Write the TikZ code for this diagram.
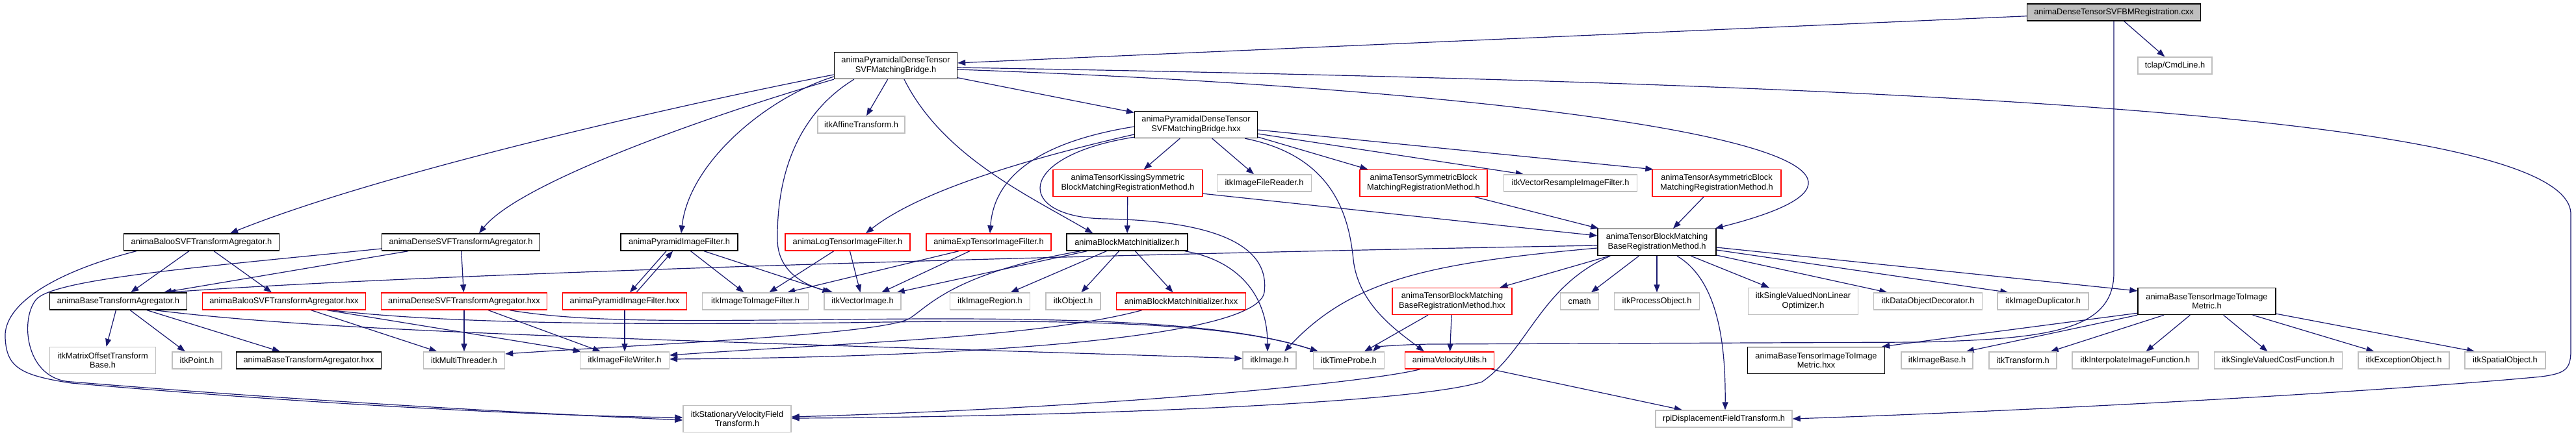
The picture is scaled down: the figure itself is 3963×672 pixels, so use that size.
\documentclass[tikz,border=0pt]{standalone}
\usepackage{fontspec}
\setmainfont{Liberation Sans}
\usetikzlibrary{arrows.meta,calc}
\definecolor{edgeblue}{HTML}{191970}
\definecolor{boxgray}{HTML}{BFBFBF}
\definecolor{fillgray}{HTML}{BFBFBF}
\pgfdeclarelayer{paper}
\pgfdeclarelayer{background}
\pgfsetlayers{paper,background,main}
\begin{document}
\begin{tikzpicture}[x=1pt,y=-1pt,
  nb/.style={draw, rectangle, inner sep=0pt, align=center, fill=white,
    font=\fontsize{12.8pt}{14.7pt}\selectfont, line width=1.4pt},
  bk/.style={nb, draw=black},
  gr/.style={nb, draw=boxgray},
  rd/.style={nb, draw=red},
  wh/.style 2 args={minimum width=#1pt, minimum height=#2pt},
  e/.style={draw=edgeblue, line width=1.2pt, -{Triangle[length=12pt,width=9pt]}}]
\useasboundingbox (0,0) rectangle (3963,672);
\begin{pgfonlayer}{paper}
\fill[white] (0,0) rectangle (3963,672);
\end{pgfonlayer}

% ---------- nodes ----------
\node[bk, fill=fillgray, wh={267}{26}] (cxx) at (3252,19) {animaDenseTensorSVFBMRegistration.cxx};
\node[bk, wh={189}{41}] (pbh) at (1378,101) {animaPyramidalDenseTensor\\SVFMatchingBridge.h};
\node[gr, wh={114}{26}] (tclap) at (3346,101) {tclap/CmdLine.h};
\node[gr, wh={134}{26}] (affine) at (1325,192) {itkAffineTransform.h};
\node[bk, wh={189}{41}] (pbhxx) at (1840,192) {animaPyramidalDenseTensor\\SVFMatchingBridge.hxx};
\node[rd, wh={230}{41}] (kiss) at (1735,282) {animaTensorKissingSymmetric\\BlockMatchingRegistrationMethod.h};
\node[gr, wh={145}{26}] (reader) at (1945,282) {itkImageFileReader.h};
\node[rd, wh={196}{41}] (sym) at (2190,282) {animaTensorSymmetricBlock\\MatchingRegistrationMethod.h};
\node[gr, wh={205}{26}] (vres) at (2416,282) {itkVectorResampleImageFilter.h};
\node[rd, wh={198}{41}] (asym) at (2641,282) {animaTensorAsymmetricBlock\\MatchingRegistrationMethod.h};

\node[bk, wh={239}{26}] (baloo) at (310,373) {animaBalooSVFTransformAgregator.h};
\node[bk, wh={243}{26}] (dense) at (709,373) {animaDenseSVFTransformAgregator.h};
\node[bk, wh={180}{26}] (pif) at (1045,373) {animaPyramidImageFilter.h};
\node[rd, wh={192}{26}] (logt) at (1304,373) {animaLogTensorImageFilter.h};
\node[rd, wh={192}{26}] (expt) at (1521,373) {animaExpTensorImageFilter.h};
\node[bk, wh={186}{26}] (bmi) at (1734,373) {animaBlockMatchInitializer.h};
\node[bk, wh={182}{41}] (tbm) at (2549,373) {animaTensorBlockMatching\\BaseRegistrationMethod.h};

\node[bk, wh={211}{26}] (bta) at (182,464) {animaBaseTransformAgregator.h};
\node[rd, wh={251}{26}] (balooxx) at (437,464) {animaBalooSVFTransformAgregator.hxx};
\node[rd, wh={255}{26}] (densexx) at (714,464) {animaDenseSVFTransformAgregator.hxx};
\node[rd, wh={191}{26}] (pifxx) at (961,464) {animaPyramidImageFilter.hxx};
\node[gr, wh={163}{26}] (i2i) at (1162,464) {itkImageToImageFilter.h};
\node[gr, wh={118}{26}] (vimg) at (1327,464) {itkVectorImage.h};
\node[gr, wh={123}{26}] (region) at (1523,464) {itkImageRegion.h};
\node[gr, wh={84}{26}] (object) at (1651,464) {itkObject.h};
\node[rd, wh={199}{26}] (bmixx) at (1817,464) {animaBlockMatchInitializer.hxx};
\node[rd, wh={184}{41}] (tbmxx) at (2234,464) {animaTensorBlockMatching\\BaseRegistrationMethod.hxx};
\node[gr, wh={59}{26}] (cmath) at (2430,464) {cmath};
\node[gr, wh={131}{26}] (procobj) at (2549,464) {itkProcessObject.h};
\node[gr, wh={169}{41}] (svnlo) at (2774,464) {itkSingleValuedNonLinear\\Optimizer.h};
\node[gr, wh={167}{26}] (dod) at (2966,464) {itkDataObjectDecorator.h};
\node[gr, wh={140}{26}] (dup) at (3143,464) {itkImageDuplicator.h};
\node[bk, wh={212}{41}] (metric) at (3395,464) {animaBaseTensorImageToImage\\Metric.h};

\node[gr, wh={163}{41}] (mob) at (158,555) {itkMatrixOffsetTransform\\Base.h};
\node[gr, wh={76}{26}] (point) at (303,555) {itkPoint.h};
\node[bk, wh={223}{26}] (btaxx) at (475,555) {animaBaseTransformAgregator.hxx};
\node[gr, wh={125}{26}] (mt) at (714,555) {itkMultiThreader.h};
\node[gr, wh={137}{26}] (writer) at (961,555) {itkImageFileWriter.h};
\node[gr, wh={82}{26}] (image) at (1953,555) {itkImage.h};
\node[gr, wh={109}{26}] (probe) at (2075,555) {itkTimeProbe.h};
\node[rd, wh={137}{26}] (vel) at (2230,555) {animaVelocityUtils.h};
\node[bk, wh={211}{41}] (metricxx) at (2794,555) {animaBaseTensorImageToImage\\Metric.hxx};
\node[gr, wh={110}{26}] (ibase) at (2980,555) {itkImageBase.h};
\node[gr, wh={104}{26}] (transform) at (3112,555) {itkTransform.h};
\node[gr, wh={194}{26}] (interp) at (3285,555) {itkInterpolateImageFunction.h};
\node[gr, wh={197}{26}] (svcf) at (3505,555) {itkSingleValuedCostFunction.h};
\node[gr, wh={140}{26}] (exc) at (3698,555) {itkExceptionObject.h};
\node[gr, wh={124}{26}] (spatial) at (3854,555) {itkSpatialObject.h};

\node[gr, wh={166}{41}] (svf) at (1134,645) {itkStationaryVelocityField\\Transform.h};
\node[gr, wh={210}{26}] (rpi) at (2652,645) {rpiDisplacementFieldTransform.h};

% ---------- edges ----------
\begin{pgfonlayer}{background}
% cxx
\draw[e] (cxx) -- (tclap);
\draw[e] (cxx) -- (pbh);
\draw[e] (cxx.south) -- (3252,420) .. controls (3252,510) and (3150,522) .. (2950,527)
   -- (2200,530) .. controls (2140,531) and (2118,535) .. ($(probe.north east)+(-18,0)$);
% pyramidal bridge .h
\draw[e] (pbh) -- (affine);
\draw[e] (pbh) -- (pbhxx);
\draw[e] ($(pbh.west)+(0,14)$) .. controls (1100,150) and (600,260) .. ($(baloo.north)+(44,0)$);
\draw[e] (pbh.south west) .. controls (1100,175) and (800,280) .. ($(dense.north)+(28,0)$);
\draw[e] ($(pbh.west)+(0,17)$) .. controls (1180,150) and (1060,250) .. ($(pif.north)+(3,0)$);
\draw[e] ($(pbh.south west)+(31,0)$) .. controls (1220,180) and (1195,280) .. (1196,370)
   .. controls (1197,420) and (1240,440) .. ($(vimg.north west)+(14,0)$);
\draw[e] ($(pbh.south)+(13,0)$) .. controls (1450,240) and (1580,300) .. ($(bmi.north west)+(41,0)$);
\draw[e] ($(pbh.east)+(0,6)$) .. controls (2400,140) and (3080,240) .. ($(tbm.north east)+(-2,0)$);
\draw[e] ($(pbh.east)+(0,3)$) .. controls (3000,130) and (3955,180) .. (3955,330)
   -- (3955,540) .. controls (3955,570) and (3945,575) .. (3910,580)
   .. controls (3700,600) and (3200,630) .. (rpi.east);
% pyramidal bridge .hxx
\draw[e] (pbhxx) -- (kiss);
\draw[e] (pbhxx) -- (reader);
\draw[e] ($(pbhxx.east)+(0,8)$) -- ($(asym.north west)+(2,0)$);
\draw[e] ($(pbhxx.east)+(0,14)$) -- ($(vres.north west)+(31,0)$);
\draw[e] ($(pbhxx.east)+(0,19)$) -- ($(sym.north west)+(13,0)$);
\draw[e] ($(pbhxx.south east)+(-20,0)$) .. controls (2050,240) and (2075,330) .. (2082,400)
   .. controls (2090,470) and (2150,510) .. ($(vel.north west)+(30,0)$);
\draw[e] ($(pbhxx.west)+(0,15)$) .. controls (1600,240) and (1420,290) .. ($(logt.north)+(28,0)$);
\draw[e] ($(pbhxx.west)+(0,3)$) .. controls (1620,215) and (1530,260) .. ($(expt.north)+(2,0)$);
\draw[e] ($(pbhxx.south west)+(0,-2)$) .. controls (1560,240) and (1560,335) .. (1700,337)
   .. controls (1850,340) and (1955,370) .. (1945,450)
   .. controls (1935,520) and (1500,550) .. ($(writer.east)+(0,-2)$);
% kissing / symmetric / asymmetric
\draw[e] (kiss) -- (bmi);
\draw[e] ($(kiss.south east)+(0,-5)$) -- ($(tbm.west)+(0,-10)$);
\draw[e] ($(sym.south east)+(-20,0)$) -- ($(tbm.north west)+(2,0)$);
\draw[e] ($(asym.south)+(-20,0)$) -- ($(tbm.north)+(25,0)$);
% tensor block matching base .h
\draw[e] (tbm) -- (tbmxx);
\draw[e] (tbm) -- (cmath);
\draw[e] (tbm) -- (procobj);
\draw[e] (tbm) -- (svnlo);
\draw[e] (tbm) -- (dod);
\draw[e] ($(tbm.east)+(0,12)$) -- ($(dup.north west)+(17,0)$);
\draw[e] ($(tbm.east)+(0,8)$) -- ($(metric.west)+(0,-16)$);
\draw[e] ($(tbm.south)+(31,0)$) .. controls (2640,430) and (2655,520) .. ($(rpi.north)+(2,0)$);
\draw[e] ($(tbm.west)+(0,5)$) .. controls (1500,395) and (600,425) .. ($(bta.north)+(76,0)$);
\draw[e] ($(tbm.west)+(0,9)$) .. controls (2200,405) and (2080,430) .. ($(image.north)+(23,0)$);
\draw[e] ($(tbm.south west)+(20,0)$) .. controls (2370,440) and (2350,540) .. (2280,588)
   .. controls (2150,628) and (1500,643) .. ($(svf.east)+(0,-1)$);
% tensor block matching base .hxx
\draw[e] (tbmxx) -- (probe);
\draw[e] (tbmxx) -- (vel);
% velocity utils
\draw[e] (vel) -- (rpi);
\draw[e] ($(vel.south west)+(24,0)$) .. controls (2100,590) and (1700,628) .. ($(svf.east)+(0,-3)$);
% block match initializer
\draw[e] ($(bmi.south west)+(32,0)$) -- ($(vimg.north east)+(-7,0)$);
\draw[e] (bmi) -- (region);
\draw[e] (bmi) -- (object);
\draw[e] (bmi) -- (bmixx);
\draw[e] ($(bmi.south east)+(-5,0)$) .. controls (1900,400) and (1950,450) .. ($(image.north)+(-3,0)$);
\draw[e] ($(bmi.south west)+(22,0)$) .. controls (1470,420) and (1430,470) .. (1400,490)
   .. controls (1360,515) and (1000,530) .. ($(mt.east)+(0,-10)$);
\draw[e] ($(bmixx.south west)+(40,0)$) .. controls (1600,520) and (1300,528) .. ($(writer.east)+(0,-8)$);
% baloo / dense agregators
\draw[e] (baloo) -- (bta);
\draw[e] (baloo) -- (balooxx);
\draw[e] ($(baloo.south west)+(20,0)$) .. controls (80,420) and (5,470) .. (8,520)
   .. controls (10,565) and (30,578) .. (110,590)
   .. controls (500,624) and (850,641) .. ($(svf.west)+(0,-2)$);
\draw[e] (dense) -- ($(bta.north)+(70,0)$);
\draw[e] (dense) -- (densexx);
\draw[e] ($(dense.west)+(0,10)$) .. controls (300,412) and (80,430) .. (55,462)
   .. controls (30,494) and (40,585) .. (110,588)
   .. controls (500,620) and (850,638) .. ($(svf.west)+(0,2)$);
\draw[e] (balooxx) -- (mt);
\draw[e] ($(balooxx.south)+(66,0)$) -- ($(writer.north west)+(2,0)$);
\draw[e] ($(balooxx.south)+(72,0)$) .. controls (700,500) and (1000,500) .. (1300,497)
   .. controls (1700,490) and (1900,500) .. ($(probe.north west)+(8,0)$);
\draw[e] (densexx) -- (mt);
\draw[e] (densexx) -- (writer);
\draw[e] ($(densexx.south)+(70,0)$) .. controls (900,497) and (1050,494) .. (1300,492)
   .. controls (1700,487) and (1900,500) .. ($(probe.north west)+(8,0)$);
% pyramid image filter
\draw[e] ($(pif.south)+(-20,0)$) -- ($(pifxx.north)+(8,0)$);
\draw[e] ($(pifxx.north)+(18,0)$) -- ($(pif.south)+(-10,0)$);
\draw[e] (pif) -- (i2i);
\draw[e] ($(pif.south)+(38,0)$) -- ($(vimg.north west)+(10,0)$);
\draw[e] (pifxx) -- (writer);
% log / exp tensor filters
\draw[e] (logt) -- (i2i);
\draw[e] (logt) -- (vimg);
\draw[e] ($(expt.south)+(-46,0)$) -- ($(i2i.north east)+(-33,0)$);
\draw[e] (expt) -- (vimg);
% base transform agregator
\draw[e] (bta) -- (mob);
\draw[e] (bta) -- (point);
\draw[e] (bta) -- (btaxx);
\draw[e] ($(bta.south east)+(-50,0)$) .. controls (500,510) and (900,520) .. ($(image.west)+(0,-3)$);
% metric
\draw[e] (metric.south west) -- ($(ibase.north east)+(-11,0)$);
\draw[e] ($(metric.south west)+(0,-3)$) -- ($(metricxx.north east)+(-5,0)$);
\draw[e] (metric) -- (transform);
\draw[e] (metric) -- (interp);
\draw[e] (metric) -- (svcf);
\draw[e] (metric) -- (exc);
\draw[e] ($(metric.south east)+(0,-2)$) -- ($(spatial.north west)+(16,0)$);
\end{pgfonlayer}
\end{tikzpicture}
\end{document}
